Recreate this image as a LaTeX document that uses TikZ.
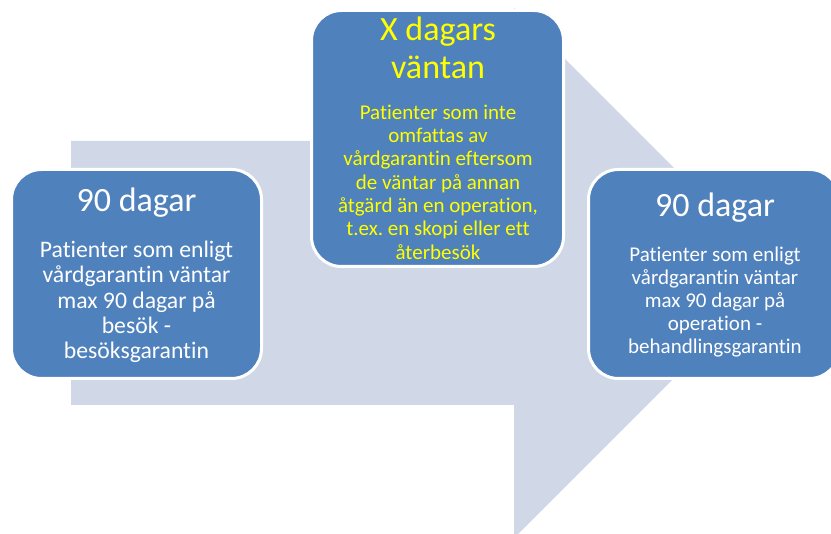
\documentclass[tikz,border=0pt]{standalone}
\usepackage{fontspec}
\setmainfont[Ligatures={NoCommon}]{Carlito}
\frenchspacing
\usetikzlibrary{positioning}
\definecolor{PathGrey}{HTML}{D0D8E8}
\definecolor{StageBlue}{HTML}{4F81BD}
\definecolor{NoteYellow}{HTML}{FFFF00}
\tikzset{
  stage/.style={fill=StageBlue,draw=white,line width=3pt,rounded corners=30pt,inner sep=0pt},
  heading/.style={font=\fontsize{34}{38}\selectfont,align=center,inner sep=0pt},
  blurb/.style={align=center,inner sep=0pt}
}
\begin{document}
\begin{tikzpicture}[x=1pt,y=-1pt]
  \useasboundingbox (0,0) rectangle (831,534);
  \clip (0,0) rectangle (831,534);
  \fill[PathGrey] (71,141) -- (514,141) -- (514,8) -- (779,273) -- (514,538) -- (514,405) -- (71,405) -- cycle;

  \node[stage,minimum width=250pt,minimum height=209pt] (visit) at (136.5,274) {};
  \node[heading,text=white] (visittitle) at (136.5,203) {90 dagar};
  \node[blurb,text=white,font=\fontsize{23.7}{25.3}\selectfont] (visitnote) at (136.5,302) {Patienter som enligt\\vårdgarantin väntar\\max 90 dagar på\\besök -\\besöksgarantin};

  \node[stage,minimum width=252pt,minimum height=256pt] (wait) at (437.5,138.5) {};
  \node[heading,text=NoteYellow] (waittitle) at (438,48) {X dagars\\väntan};
  \node[blurb,text=NoteYellow,font=\fontsize{21}{23.3}\selectfont] (waitnote) at (438,182) {Patienter som inte\\omfattas av\\vårdgarantin eftersom\\de väntar på annan\\åtgärd än en operation,\\t.ex. en skopi eller ett\\återbesök};

  \node[stage,minimum width=251pt,minimum height=209pt] (surgery) at (714,274) {};
  \node[heading,text=white] (surgerytitle) at (715,208) {90 dagar};
  \node[blurb,text=white,font=\fontsize{21}{23}\selectfont] (surgerynote) at (715,302) {Patienter som enligt\\vårdgarantin väntar\\max 90 dagar på\\operation -\\behandlingsgarantin};
\end{tikzpicture}
\end{document}
